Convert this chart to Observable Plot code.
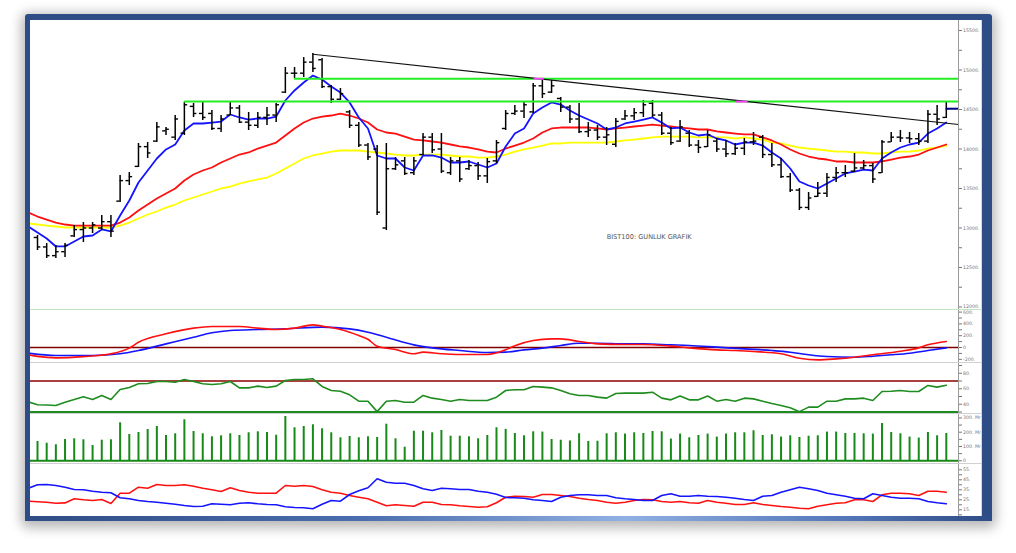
<!DOCTYPE html>
<html><head><meta charset="utf-8">
<script src="https://cdn.jsdelivr.net/npm/d3@7"></script>
<script src="https://cdn.jsdelivr.net/npm/@observablehq/plot@0.6"></script>
<style>
body{margin:0;background:#fff;width:1016px;height:553px;overflow:hidden;position:relative;font-family:"DejaVu Sans",sans-serif}
#frame{position:absolute;left:25px;top:14px;width:967px;height:507px;background:#2e4c85;border-radius:3px;box-shadow:0 3px 12px 4px rgba(0,0,0,0.28)}
#bottom{position:absolute;left:0;right:0;bottom:0;height:6px;background:linear-gradient(to right,#2e4c85 0%,#4a6eae 35%,#8fb0e3 62%,#5276b8 85%,#2e4c85 100%)}
#inner{position:absolute;left:30px;top:20px;width:952px;height:496px;background:#fff;overflow:hidden;box-shadow:inset -1px 0 0 #c6e6c6}
.pane{position:absolute;left:0;width:952px;overflow:hidden}
.sep{position:absolute;left:0;width:952px;height:1px;background:#d2d2d2}
</style></head>
<body>
<div id="frame"><div id="bottom"></div></div>
<div id="inner"></div>
<script>
// ---------- price bars (bar index 0..99) ----------
const high = [12905,12804,12778,12804,13031,13069,13069,13158,13158,13665,13702,14070,14082,14335,14272,14424,14589,14576,14589,14487,14424,14589,14551,14462,14462,14525,14576,15032,15032,15158,15209,15146,14804,14766,14487,14335,14070,14044,14070,13892,13892,13892,14196,14196,14196,13892,13892,13854,13829,13880,14108,14487,14551,14589,14829,14893,14867,14652,14551,14576,14335,14297,14272,14386,14487,14513,14614,14614,14462,14272,14361,14234,14108,14234,14133,14108,14070,14133,14209,14171,14070,13880,13690,13500,13449,13576,13690,13766,13791,13943,13854,13816,14108,14209,14234,14209,14196,14487,14551,14589];
const low = [12715,12614,12614,12626,12880,12816,12930,12968,12880,13323,13538,13766,13880,14082,14171,14108,14171,14399,14361,14234,14209,14424,14323,14234,14260,14297,14335,14703,14893,14905,14968,14766,14576,14614,14260,14019,13854,13158,12968,13728,13665,13665,13918,13943,13690,13665,13576,13728,13601,13563,13816,14234,14424,14386,14449,14639,14703,14462,14323,14196,14146,14108,14044,14019,14361,14361,14399,14399,14171,14044,14082,14019,13943,14019,13956,13892,13918,13918,14044,13880,13766,13627,13449,13221,13221,13386,13386,13576,13639,13702,13728,13563,13690,14082,14082,14070,14044,14070,14297,14386];
const open = [12880,12760,12650,12700,12900,12980,13000,13000,13080,13340,13600,13780,14030,14100,14230,14150,14200,14540,14450,14450,14260,14430,14520,14340,14300,14400,14430,14720,14960,14960,15100,15130,14790,14630,14470,14300,14050,14000,13000,13750,13850,13700,13930,14150,14000,13700,13850,13750,13790,13660,13850,14260,14450,14480,14470,14800,14720,14640,14530,14380,14220,14240,14150,14060,14380,14420,14460,14580,14430,14200,14100,14200,14050,14030,14100,14000,13940,14010,14090,14150,13930,13800,13650,13480,13260,13400,13440,13640,13700,13720,13760,13790,13700,14090,14150,14140,14130,14100,14440,14400];
const close = [12760,12650,12700,12780,12980,13000,13040,13080,12960,13600,13650,14030,13950,14280,14250,14380,14560,14450,14400,14260,14380,14520,14340,14300,14400,14430,14560,14960,14960,15100,15020,14790,14630,14700,14300,14050,13900,13200,13750,13800,13690,13850,14150,13990,13720,13850,13620,13790,13660,13840,14080,14450,14480,14560,14800,14700,14800,14530,14380,14220,14240,14150,14180,14350,14420,14460,14560,14430,14200,14080,14280,14050,14020,14180,14000,13940,14010,14090,14100,13930,13800,13650,13480,13260,13380,13440,13640,13700,13700,13760,13790,13620,14090,14150,14140,14130,14100,14440,14380,14510];

// ---------- moving averages (bar index -1..99) ----------
const maFast = [13019,12943,12867,12766,12766,12829,12892,12905,12981,12956,13158,13348,13576,13728,13880,13994,14057,14234,14323,14323,14335,14348,14437,14399,14373,14386,14386,14411,14614,14741,14842,14930,14880,14791,14715,14589,14399,14260,13918,13880,13880,13766,13728,13918,13918,13892,13829,13829,13842,13804,13766,13816,14032,14196,14260,14449,14525,14589,14563,14487,14424,14373,14323,14247,14272,14323,14348,14373,14399,14335,14260,14272,14209,14171,14184,14133,14108,14057,14082,14082,14044,13956,13880,13753,13589,13538,13500,13563,13627,13690,13715,13740,13728,13880,13956,14019,14057,14082,14196,14260,14335];
const maMid = [13196,13145,13107,13069,13044,13031,13031,13031,13031,13031,13069,13133,13221,13297,13373,13437,13500,13601,13677,13728,13766,13829,13880,13930,13956,14006,14044,14082,14171,14260,14335,14386,14411,14424,14449,14424,14386,14335,14247,14209,14196,14158,14120,14108,14095,14082,14057,14032,14019,13994,13968,13956,14006,14044,14082,14133,14209,14260,14272,14272,14272,14272,14260,14247,14260,14272,14285,14297,14310,14297,14285,14272,14260,14247,14247,14222,14209,14196,14184,14184,14146,14108,14057,13994,13943,13905,13880,13867,13842,13842,13829,13829,13829,13842,13867,13892,13905,13930,13981,14019,14057];
const maSlow = [13057,13044,13031,13019,13006,13006,13006,13006,13006,13006,13031,13069,13120,13171,13209,13259,13297,13348,13386,13424,13462,13500,13525,13563,13589,13614,13639,13690,13753,13816,13880,13918,13943,13968,13981,13981,13981,13968,13956,13943,13930,13918,13918,13930,13930,13930,13918,13905,13905,13892,13892,13905,13930,13968,13994,14019,14044,14070,14070,14082,14082,14082,14082,14082,14095,14108,14120,14133,14146,14158,14158,14158,14158,14146,14146,14146,14146,14133,14146,14133,14120,14082,14070,14044,14019,14006,13994,13981,13968,13968,13956,13956,13943,13943,13956,13968,13968,13981,14006,14019,14044];

// ---------- levels, trend line ----------
const levelStart = [16, 28];
const levelValue = [14600, 14890];
const trendIdx = [30, 100.33];
const trendVal = [15200, 14310];
const alertStart = [54.1, 76.1];
const alertEnd = [55.2, 77.4];
const alertValue = [14890, 14600];
const chartTitle = "BIST100: GUNLUK GRAFIK";

// ---------- MACD ----------
const macdIdx = [-1,0,2,5,8,10,11,14,17,19,22,24,26,28,30,31,33,35,36,37,39,41,42,44,46,49,51,52,54,56,57,59,61,64,66,69,71,74,76,78,81,83,85,87,89,91,94,96,97,99];
const macdVal = [-124,-150,-175,-155,-107,-11,90,232,328,356,356,328,305,328,384,362,305,203,140,20,-34,-107,-79,-107,-119,-119,-40,30,119,147,147,102,62,51,51,23,-6,-40,-51,-68,-107,-181,-209,-192,-164,-124,-62,-6,45,102];
const sigIdx = [-1,2,6,9,11,14,17,19,21,24,27,31,34,36,38,41,43,46,49,51,53,55,57,59,61,64,66,69,71,74,77,80,82,84,86,89,91,93,95,97,99];
const sigVal = [-96,-136,-136,-107,-51,62,175,249,288,305,316,345,316,260,175,45,-6,-51,-85,-79,-40,-11,34,73,73,62,62,45,34,6,-23,-51,-79,-124,-153,-164,-147,-124,-96,-51,-6];

// ---------- RSI (index -1..99) ----------
const rsi = [43,39.4,39,38.5,42.7,46.2,49.7,46.2,51.4,46.2,59.1,61.7,66.5,66.8,69.4,69.4,68.5,72,69.4,66.5,65.5,66.5,69.4,61.2,61.2,63.4,61.7,63.4,70.7,72,72,72.9,63,57.8,56.9,52.2,44,44,30.5,44,44.9,42.7,42.7,51.4,47.9,46.2,44,46.2,44.9,44.9,44.9,49.2,57.8,58.7,58.7,63,62.1,61.2,57.8,53.5,51.4,51.4,49.2,47.9,54,54.4,54.4,54.4,55.6,47.9,45.7,50.6,45.7,45.7,50.6,44,46.2,44,47.9,47,44,41,38.5,35.5,30.5,36.3,36.3,44,44,47,47,47.9,44.9,56.5,56.9,57.8,56.5,56.5,64.3,62.1,64.6];

// ---------- volume (index 0..99, millions) ----------
const volume = [135,123,112,149,154,147,107,144,147,266,184,198,219,240,177,189,287,205,189,168,175,189,177,196,203,198,179,310,231,240,252,224,196,161,170,161,168,163,256,154,95,207,207,196,212,172,172,168,154,177,231,220,191,175,203,201,149,144,139,189,135,137,189,196,187,196,191,205,203,152,187,161,177,187,166,187,196,196,210,177,182,166,175,163,172,175,201,201,191,191,189,187,261,198,189,166,159,198,175,191];

// ---------- DMI (index -1..99) ----------
const diPlus = [23.6,23,22.6,21.6,21.9,26,25,24.3,25.3,21.3,31.6,31.6,37.6,36.6,40.3,39.3,39.3,40,38.6,36.6,35,33.3,37,34.3,32.6,31.6,31.6,31.6,39.3,38.6,39.3,38.3,35,32.6,31.6,29.3,27.6,26,22.6,19,20,19.3,18.6,22.6,22.6,20.3,20,19,18.3,17.6,18,22,27.6,28.6,28.3,27.6,30.3,30.3,29.3,28.3,26.6,25.3,24.3,22.6,21.6,22.6,24.3,25.3,25,23.3,22.6,23.3,22,21.6,24.3,22.6,21.6,20.3,20.3,22,20.3,19.3,18.3,17.6,16.6,16,18.6,20,21.6,22,25,25,23.3,30,31.6,31.6,31,29.3,33.6,33.6,32.6];
const diMinus = [36.6,40,40.3,39.3,37.6,35.3,35,33.6,32.6,32,27,26,24.3,23.3,22.6,21.6,20.6,19.3,18.3,18.6,21,20.6,20,21.6,22,21,20.3,20,18,17.3,17,16,20.6,24.3,23.6,30.3,34,37,46,42.6,41.6,41.6,39.3,36,34.3,36.6,36,35.3,35.3,33.6,32.6,30.5,27.3,27,26.6,25,24.3,23.3,27.6,29.3,30,30,29.3,29.3,27,26,25.3,24.3,24.3,29.3,31,28.6,28.6,29.3,28.6,28.3,27.6,26.6,25.3,24.3,28.6,29.3,32.6,35,37.6,36,34.3,31.6,30,28.6,26.6,26,31,29.3,27.6,26.6,26.6,26,23.3,22,21];

// ---------- axis ticks ----------
const priceLabels = [12000,12500,13000,13500,14000,14500,15000,15500];
const priceMinor = [12250,12750,13250,13750,14250,14750,15250];
const macdLabels = [600,400,200,0,-200];
const macdMinor = [500,300,100,-100];
const rsiLabels = [80,60,40];
const rsiMinor = [90,70,50,30];
const volLabels = [300,200,100,0];
const volMinor = [250,150,50];
const dmiLabels = [55,45,35,25,15];
const dmiMinor = [50,40,30,20,10];

// ---------- build ----------
const xDomain = [-0.763, 100.33];
const xEnd = xDomain[1];
const bars = high.map((h, i) => ({i, high: h, low: low[i], open: open[i], close: close[i], vol: volume[i]}));
const series = arr => arr.map((v, k) => ({i: k - 1, v}));
const pairs = (idx, val) => idx.map((i, k) => ({i, v: val[k]}));
const inner = document.getElementById("inner");
const dot = d => (d === 0 ? "0" : d + ".");

function pane(top, height, domain, labels, minor, fmt, marks) {
  const svg = Plot.plot({
    width: 952, height,
    marginLeft: 0, marginRight: 24, marginTop: 0, marginBottom: 0,
    x: {domain: xDomain, axis: null},
    y: {domain, axis: "right", label: null, ticks: labels.concat(minor),
        tickFormat: d => labels.includes(d) ? fmt(d) : "", tickSize: 3, tickPadding: 1.5},
    style: {background: "transparent", fontSize: "4.7px", fontFamily: "DejaVu Sans", color: "#777"},
    marks: [...marks, Plot.ruleX([xEnd], {stroke: "#9a9a9a", strokeWidth: 1})]
  });
  const div = document.createElement("div");
  div.className = "pane";
  div.style.top = top + "px";
  div.style.height = height + "px";
  div.appendChild(svg);
  inner.appendChild(div);
}

// price
pane(0, 289, [11968, 15627], priceLabels, priceMinor, d => d + ".", [
  Plot.line(series(maSlow), {x: "i", y: "v", stroke: "#ffff00", strokeWidth: 1.8, clip: true}),
  Plot.line(series(maMid), {x: "i", y: "v", stroke: "#ff1010", strokeWidth: 1.8, clip: true}),
  Plot.line(series(maFast), {x: "i", y: "v", stroke: "#1414ff", strokeWidth: 1.8, clip: true}),
  Plot.ruleX(bars, {x: "i", y1: "low", y2: "high", stroke: "#000", strokeWidth: 1.5}),
  Plot.ruleY(bars, {x1: d => d.i - 0.36, x2: "i", y: "open", stroke: "#000", strokeWidth: 1.4}),
  Plot.ruleY(bars, {x1: "i", x2: d => d.i + 0.36, y: "close", stroke: "#000", strokeWidth: 1.4}),
  Plot.ruleY(levelValue.map((v, k) => ({v, s: levelStart[k]})), {x1: "s", x2: () => xEnd, y: "v", stroke: "#22ee22", strokeWidth: 2}),
  Plot.line(pairs(trendIdx, trendVal), {x: "i", y: "v", stroke: "#111", strokeWidth: 1.2}),
  Plot.ruleY(alertValue.map((v, k) => ({v, a: alertStart[k], b: alertEnd[k]})), {x1: "a", x2: "b", y: "v", stroke: "#ff44ff", strokeWidth: 2}),
  Plot.ruleY([{v: close[99], a: 99}], {x1: "a", x2: () => xEnd, y: "v", stroke: "#000080", strokeWidth: 2}),
  Plot.text([chartTitle], {x: 62, y: 12890, text: d => d, textAnchor: "start", fill: "#555", fontSize: 6.6, fontFamily: "DejaVu Sans"})
]);

// MACD
pane(289, 53, [-254, 644], macdLabels, macdMinor, dot, [
  Plot.ruleY([0], {stroke: "#800000", strokeWidth: 1.6}),
  Plot.line(pairs(sigIdx, sigVal), {x: "i", y: "v", stroke: "#1414ff", strokeWidth: 1.6, curve: "monotone-x", clip: true}),
  Plot.line(pairs(macdIdx, macdVal), {x: "i", y: "v", stroke: "#ff1010", strokeWidth: 1.6, curve: "monotone-x", clip: true})
]);

// RSI
pane(342, 51, [28.1, 93.9], rsiLabels, rsiMinor, dot, [
  Plot.ruleY([70], {stroke: "#8b0000", strokeWidth: 1.6}),
  Plot.ruleY([30], {stroke: "#1e8c1e", strokeWidth: 2}),
  Plot.line(series(rsi), {x: "i", y: "v", stroke: "#1e8c1e", strokeWidth: 1.6, clip: true})
]);

// Volume
pane(393, 50, [-19, 331], volLabels, volMinor, d => d === 0 ? "0" : d + ". Mr", [
  Plot.ruleX(bars, {x: "i", y1: 0, y2: "vol", stroke: "#178a17", strokeWidth: 2}),
  Plot.ruleY([0], {stroke: "#178a17", strokeWidth: 2})
]);

// DMI
pane(443, 53, [8.3, 61.3], dmiLabels, dmiMinor, dot, [
  Plot.line(series(diPlus), {x: "i", y: "v", stroke: "#ff1010", strokeWidth: 1.6, clip: true}),
  Plot.line(series(diMinus), {x: "i", y: "v", stroke: "#1414ff", strokeWidth: 1.6, clip: true})
]);

// separators
[[289, "#bfe6bf"], [342, "#d0d0d0"], [393, "#d0d0d0"], [443, "#d0d0d0"]].forEach(([t, c]) => {
  const s = document.createElement("div");
  s.className = "sep"; s.style.top = t + "px"; s.style.background = c;
  inner.appendChild(s);
});
</script>
</body></html>
